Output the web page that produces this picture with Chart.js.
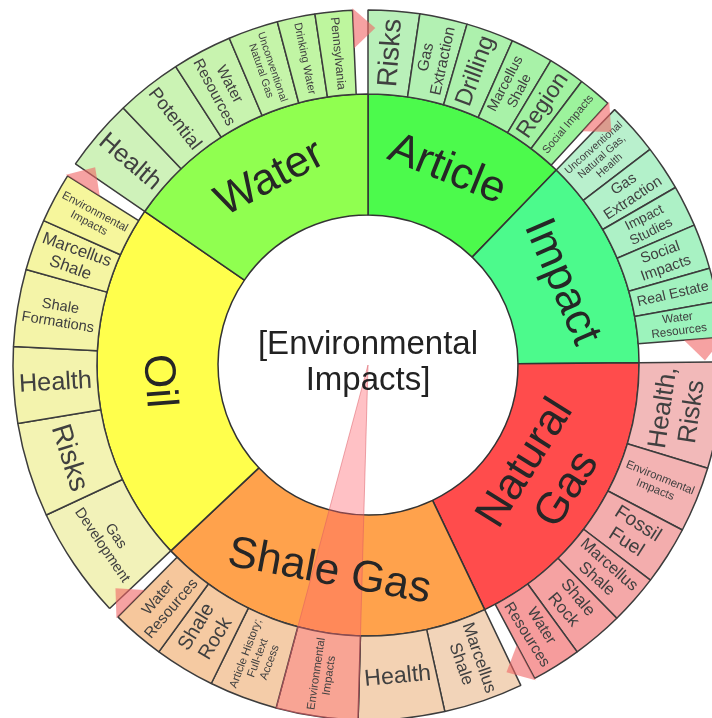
<!DOCTYPE html>
<html>
<head>
<meta charset="utf-8">
<script src="https://cdn.jsdelivr.net/npm/chart.js@4.4.1/dist/chart.umd.min.js"></script>
<style>
  body { margin: 0; background: #fff; }
  .wrap { width: 712px; height: 718px; }
</style>
</head>
<body>
<div class="wrap"><canvas id="sunburst"></canvas></div>
<script>
  // inner ring, clockwise from 12 o'clock
  const topics = ['Article', 'Impact', 'Natural\nGas', 'Shale Gas', 'Oil', 'Water'];
  const topicValues = [44, 45.5, 65, 72.2, 77.8, 55.5];
  const topicColors = ['#4cfa4c', '#4cfa8c', '#ff4c4c', '#ffa24c', '#ffff4c', '#90ff50'];

  // outer ring, one list per topic
  const subtopics = [
    ['Risks', 'Gas\nExtraction', 'Drilling', 'Marcellus\nShale', 'Region', 'Social Impacts'],
    ['Unconventional\nNatural Gas,\nHealth', 'Gas\nExtraction', 'Impact\nStudies', 'Social\nImpacts', 'Real Estate', 'Water\nResources'],
    ['Health,\nRisks', 'Environmental\nImpacts', 'Fossil\nFuel', 'Marcellus\nShale', 'Shale\nRock', 'Water\nResources'],
    ['Marcellus\nShale', 'Health', 'Environmental\nImpacts', 'Article History;\nFull-text\nAccess', 'Shale\nRock', 'Water\nResources'],
    ['Gas\nDevelopment', 'Risks', 'Health', 'Shale\nFormations', 'Marcellus\nShale', 'Environmental\nImpacts'],
    ['Health', 'Potential', 'Water\nResources', 'Unconventional\nNatural Gas', 'Drinking Water', 'Pennsylvania']
  ];
  const subtopicValues = [
    [8.4, 7.8, 7.8, 7, 6, 5.5],
    [8.6, 7.4, 6.8, 7.4, 5.5, 5.8],
    [17.4, 10.8, 9.6, 8.2, 8.4, 8.1],
    [13, 14.1, 13.4, 11.2, 9.9, 8.7],
    [18.3, 15.5, 12.5, 12.6, 8.4, 8.2],
    [11.9, 10.8, 9.8, 8.2, 6.2, 6.1]
  ];

  const centerTitle = ['[Environmental', 'Impacts]'];
  const selected = { topic: 'Shale Gas', subtopic: 'Environmental\nImpacts' };

  const FONT = '"Liberation Sans", Arial, sans-serif';

  function mix(hex, t) {
    const n = parseInt(hex.slice(1), 16);
    const c = [(n >> 16) & 255, (n >> 8) & 255, n & 255];
    return 'rgb(' + c.map(v => Math.round(v + (236 - v) * t)).join(',') + ')';
  }

  // outer ring: children of each topic, then the unused rest of that topic
  const outerLabels = [], outerValues = [], outerColors = [], outerBorders = [], outerGap = [];
  let selIdx = -1;
  topics.forEach((t, g) => {
    const kids = subtopicValues[g];
    kids.forEach((v, i) => {
      if (t === selected.topic && subtopics[g][i] === selected.subtopic) selIdx = outerValues.length;
      outerLabels.push(subtopics[g][i]);
      outerValues.push(v);
      outerColors.push(mix(topicColors[g], 0.68 - 0.18 * i / (kids.length - 1)));
      outerBorders.push(1.5);
      outerGap.push(false);
    });
    const rest = topicValues[g] - kids.reduce((a, b) => a + b, 0);
    outerLabels.push('');
    outerValues.push(Math.max(rest, 0));
    outerColors.push('rgba(0,0,0,0)');
    outerBorders.push(0);
    outerGap.push(true);
  });

  function fitSize(ctx, lines, along, across, maxSize) {
    ctx.font = '10px ' + FONT;
    const w = Math.max(...lines.map(l => ctx.measureText(l).width));
    return Math.min(maxSize, along * 0.87 / w * 10, across * 0.85 / (lines.length * 1.15));
  }

  const sunburstPlugin = {
    id: 'sunburstExtras',
    afterDatasetsDraw(chart) {
      const ctx = chart.ctx;
      const outerMeta = chart.getDatasetMeta(0);

      // highlighted wedge from centre
      const sel = outerMeta.data[selIdx].getProps(['x', 'y', 'startAngle', 'endAngle', 'outerRadius']);
      ctx.save();
      ctx.beginPath();
      ctx.moveTo(sel.x, sel.y);
      ctx.arc(sel.x, sel.y, sel.outerRadius, sel.startAngle, sel.endAngle);
      ctx.closePath();
      ctx.fillStyle = 'rgba(255,100,110,0.4)';
      ctx.fill();
      ctx.strokeStyle = 'rgba(220,90,100,0.5)';
      ctx.lineWidth = 1;
      ctx.stroke();
      ctx.restore();

      // labels
      chart.data.datasets.forEach((ds, di) => {
        const meta = chart.getDatasetMeta(di);
        const isInner = di === 1;
        meta.data.forEach((arc, i) => {
          const text = ds.names[i];
          if (!text) return;
          const p = arc.getProps(['x', 'y', 'startAngle', 'endAngle', 'innerRadius', 'outerRadius']);
          const span = p.endAngle - p.startAngle;
          const mid = (p.startAngle + p.endAngle) / 2;
          const rMid = (p.innerRadius + p.outerRadius) / 2;
          const depth = p.outerRadius - p.innerRadius;
          const chord = 2 * rMid * Math.sin(span / 2);
          const lines = text.split('\n');
          const tangential = isInner || span > 0.24;
          let rot, size;
          if (tangential) {
            rot = mid + Math.PI / 2;
            size = fitSize(ctx, lines, chord, depth, isInner ? 44 : 28);
          } else {
            rot = mid;
            size = fitSize(ctx, lines, depth, chord, 28);
          }
          if (Math.cos(rot) < -1e-6) rot += Math.PI;
          ctx.save();
          ctx.translate(p.x + Math.cos(mid) * rMid, p.y + Math.sin(mid) * rMid);
          ctx.rotate(rot);
          ctx.font = size.toFixed(1) + 'px ' + FONT;
          ctx.fillStyle = isInner ? '#262626' : '#404040';
          ctx.textAlign = 'center';
          ctx.textBaseline = 'middle';
          lines.forEach((l, k) => {
            ctx.fillText(l, 0, (k - (lines.length - 1) / 2) * size * 1.12);
          });
          ctx.restore();
        });
      });

      // pointer marks at the end of each topic
      outerMeta.data.forEach((arc, i) => {
        if (!outerGap[i]) return;
        const p = arc.getProps(['x', 'y', 'startAngle', 'outerRadius']);
        const a = p.startAngle;
        const r = p.outerRadius - 18;
        const tip = a + 22 / r;
        ctx.save();
        ctx.beginPath();
        ctx.moveTo(p.x + Math.cos(a) * (r - 20), p.y + Math.sin(a) * (r - 20));
        ctx.lineTo(p.x + Math.cos(a) * (r + 20), p.y + Math.sin(a) * (r + 20));
        ctx.lineTo(p.x + Math.cos(tip) * r, p.y + Math.sin(tip) * r);
        ctx.closePath();
        ctx.fillStyle = 'rgba(240,100,100,0.6)';
        ctx.fill();
        ctx.restore();
      });

      // centre title
      const c = outerMeta.data[0].getProps(['x', 'y']);
      ctx.save();
      ctx.font = '33px ' + FONT;
      ctx.fillStyle = '#222';
      ctx.textAlign = 'center';
      ctx.textBaseline = 'middle';
      centerTitle.forEach((l, k) => ctx.fillText(l, c.x, c.y - 20 + k * 36));
      ctx.restore();
    }
  };

  const sunburst = new Chart(document.getElementById('sunburst'), {
    type: 'doughnut',
    data: {
      labels: outerLabels,
      datasets: [
        {
          data: outerValues,
          names: outerLabels,
          backgroundColor: outerColors,
          borderColor: '#3c3c3c',
          borderWidth: outerBorders,
          weight: 86
        },
        {
          data: topicValues,
          names: topics,
          backgroundColor: topicColors,
          borderColor: '#333',
          borderWidth: 1.5,
          weight: 124
        }
      ]
    },
    options: {
      responsive: true,
      maintainAspectRatio: false,
      animation: false,
      radius: 355,
      cutout: 145,
      layout: { padding: { left: 24, right: 0, top: 12, bottom: 0 } },
      plugins: {
        legend: { display: false },
        tooltip: { enabled: false }
      }
    },
    plugins: [sunburstPlugin]
  });
</script>
</body>
</html>
